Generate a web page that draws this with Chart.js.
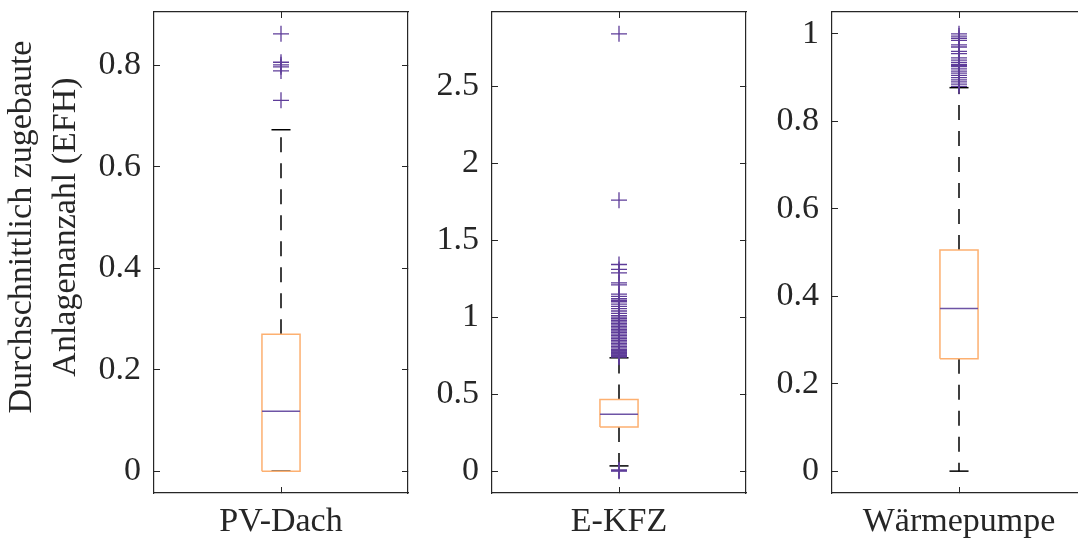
<!DOCTYPE html>
<html>
<head>
<meta charset="utf-8">
<script src="https://cdn.jsdelivr.net/npm/chart.js@4/dist/chart.umd.min.js"></script>
<style>
  body { margin: 0; background: #fff; overflow: hidden; width: 1078px; height: 543px; position: relative; }
  canvas { position: absolute; top: 0; }
</style>
</head>
<body>
<canvas id="chart1" width="410" height="543" style="left:0px"></canvas>
<canvas id="chart2" width="338" height="543" style="left:410px"></canvas>
<canvas id="chart3" width="340" height="543" style="left:748px"></canvas>
<script>
// box statistics
var categories = ["PV-Dach", "E-KFZ", "Wärmepumpe"];
var q1 = [0, 0.286, 0.257];
var median = [0.118, 0.370, 0.372];
var q3 = [0.270, 0.466, 0.506];
var whiskerLow = [0, 0.034, 0];
var whiskerHigh = [0.673, 0.736, 0.877];

var outliersPV = [0.862, 0.806, 0.801, 0.797, 0.789, 0.731];
var outliersKFZ = [2.84, 1.76, 1.342, 1.31, 1.288, 1.223, 1.21, 1.15, 1.135, 1.12, 1.11, 1.10, 1.085, 1.07,
    1.055, 1.04, 1.025, 1.01, 1.0, 0.99, 0.98, 0.97, 0.96, 0.95, 0.94, 0.93, 0.92, 0.91, 0.90, 0.89,
    0.88, 0.87, 0.86, 0.85, 0.84, 0.83, 0.82, 0.81, 0.80, 0.79, 0.785, 0.78, 0.775, 0.77, 0.765,
    0.76, 0.755, 0.75, 0.745, 0.74, 0.008, 0.003, 0.0];
var outliersWP = [1.0, 0.995, 0.99, 0.985, 0.975, 0.97, 0.96, 0.955, 0.945, 0.94, 0.935, 0.93, 0.928,
    0.925, 0.92, 0.915, 0.91, 0.905, 0.9, 0.895, 0.89, 0.885, 0.88];

var yTicksPV = [0, 0.2, 0.4, 0.6, 0.8];
var yTicksKFZ = [0, 0.5, 1, 1.5, 2, 2.5];
var yTicksWP = [0, 0.2, 0.4, 0.6, 0.8, 1];
var yLimitsPV = [-0.0431, 0.9051];
var yLimitsKFZ = [-0.142, 2.982];
var yLimitsWP = [-0.05, 1.05];

var yLabel = ["\u2002\u2002\u2002Durchschnittlich zugebaute", "\u2002\u2002\u2002Anlagenanzahl (EFH)"];

var boxColor = "rgb(253,176,112)";
var purple = "rgb(94,60,153)";
var axisColor = "#262626";
var boxHalf = 0.075, capHalf = 0.0375;

Chart.defaults.font.family = "'Liberation Serif', 'DejaVu Serif', serif";
Chart.defaults.font.size = 34;
Chart.defaults.color = axisColor;

function seg(x1, y1, x2, y2) { return [{x: x1, y: y1}, {x: x2, y: y2}]; }

function makeBoxplot(id, i, outliers, yTicks, yLimits, leftWidth, showTitle) {
    var ctx = document.getElementById(id);
    var line = function (data, color, width, dash) {
        return { data: data, showLine: true, borderColor: color, borderWidth: width,
                 borderDash: dash || [], pointRadius: 0, tension: 0, fill: false };
    };
    var datasets = [
        { data: outliers.map(function (v) { return {x: 1, y: v}; }), showLine: false,
          pointStyle: "cross", pointRadius: 8, borderColor: purple, borderWidth: 1.3,
          backgroundColor: purple },
        line(seg(1 - boxHalf, median[i], 1 + boxHalf, median[i]), "rgb(110,84,165)", 1.5),
        line([{x: 1 - boxHalf, y: q1[i]}, {x: 1 + boxHalf, y: q1[i]}, {x: 1 + boxHalf, y: q3[i]},
              {x: 1 - boxHalf, y: q3[i]}, {x: 1 - boxHalf, y: q1[i]}], boxColor, 1.5),
        line(seg(1 - capHalf, whiskerHigh[i], 1 + capHalf, whiskerHigh[i]), "#000", 1.5),
        line(seg(1 - capHalf, whiskerLow[i], 1 + capHalf, whiskerLow[i]), "#000", 1.5),
        line(seg(1, q3[i], 1, whiskerHigh[i]), "#000", 1.5, [15, 11]),
        line(seg(1, q1[i], 1, whiskerLow[i]), "#000", 1.5, [15, 11])
    ];
    var yTickFn = function (s) { s.ticks = yTicks.map(function (v) { return {value: v}; }); };
    var xTickFn = function (s) { s.ticks = [{value: 1}]; };
    var inward = { drawOnChartArea: false, tickLength: -6, color: axisColor, lineWidth: 1 };
    var border = { color: axisColor, width: 1.2 };
    return new Chart(ctx, {
        type: "scatter",
        data: { datasets: datasets },
        options: {
            responsive: false,
            animation: false,
            devicePixelRatio: 1,
            layout: { padding: 0, autoPadding: false },
            plugins: { legend: { display: false }, tooltip: { enabled: false } },
            scales: {
                x: {
                    type: "linear", position: "bottom", min: 0.5, max: 1.5,
                    afterBuildTicks: xTickFn,
                    afterFit: function (s) { s.height = 50; s.paddingLeft = 0; s.paddingRight = 0; },
                    grid: inward, border: border,
                    ticks: { padding: 15, maxRotation: 0, callback: function () { return categories[i]; } }
                },
                xTop: {
                    type: "linear", position: "top", min: 0.5, max: 1.5,
                    afterBuildTicks: xTickFn,
                    afterFit: function (s) { s.height = 12; },
                    grid: inward, border: border,
                    ticks: { display: false }
                },
                y: {
                    type: "linear", position: "left", min: yLimits[0], max: yLimits[1],
                    afterBuildTicks: yTickFn,
                    afterFit: function (s) { s.width = leftWidth; s.paddingTop = 0; s.paddingBottom = 0; },
                    grid: inward, border: border,
                    ticks: { padding: 19, callback: function (v) { return String(v); } },
                    title: { display: showTitle, text: yLabel, padding: { top: 0, bottom: 0 },
                             font: { size: 34, lineHeight: 1.3 } }
                },
                yRight: {
                    type: "linear", position: "right", min: yLimits[0], max: yLimits[1],
                    afterBuildTicks: yTickFn,
                    afterFit: function (s) { s.width = 2; },
                    grid: inward, border: border,
                    ticks: { display: false }
                }
            }
        }
    });
}

makeBoxplot("chart1", 0, outliersPV, yTicksPV, yLimitsPV, 154, true);
makeBoxplot("chart2", 1, outliersKFZ, yTicksKFZ, yLimitsKFZ, 82, false);
makeBoxplot("chart3", 2, outliersWP, yTicksWP, yLimitsWP, 84, false);
</script>
</body>
</html>
